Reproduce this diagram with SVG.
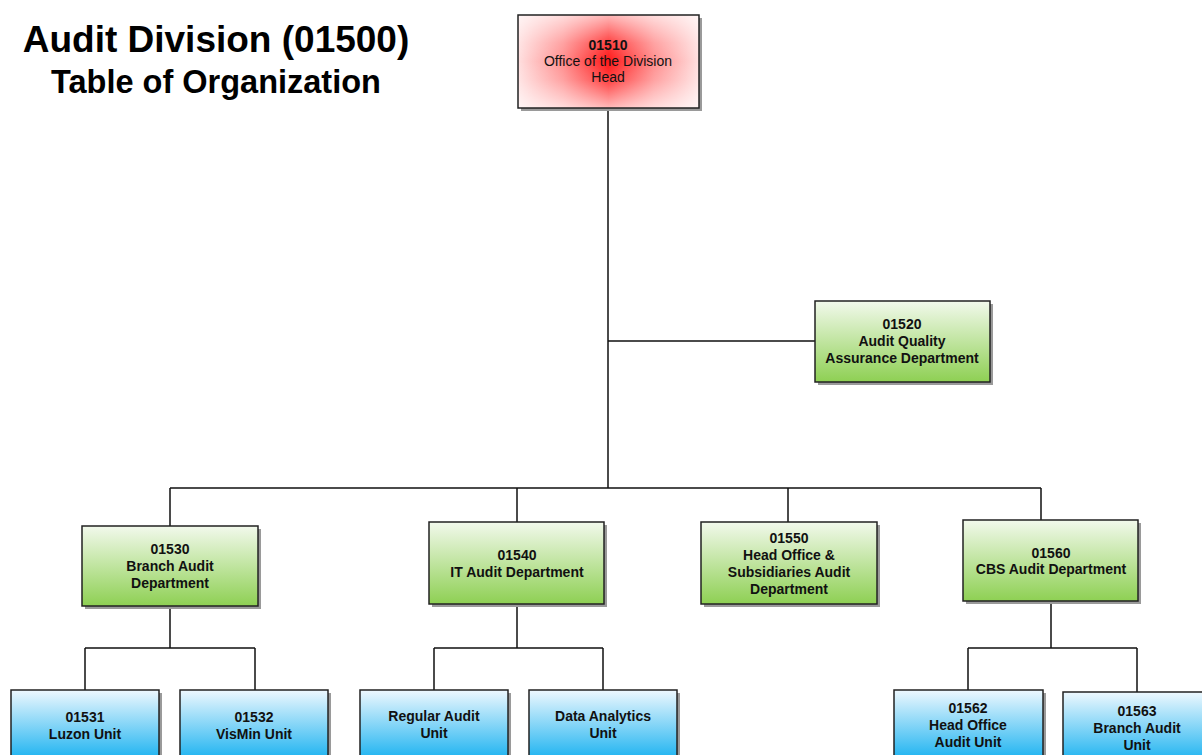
<svg xmlns="http://www.w3.org/2000/svg" width="1202" height="755" viewBox="0 0 1202 755">
<style>
.box{stroke:#222;stroke-width:1.5}
.sh{fill:#9a9a9a}
.t{font-family:"Liberation Sans",Arial,sans-serif;font-size:14px;font-weight:bold;fill:#111;text-anchor:middle}
.tn{font-family:"Liberation Sans",Arial,sans-serif;font-size:14px;fill:#111;text-anchor:middle}
.title{font-family:"Liberation Sans",Arial,sans-serif;font-weight:bold;fill:#000;text-anchor:middle}
.ln{stroke:#111;stroke-width:1.5;fill:none}
</style>
<defs>
<linearGradient id="redH" x1="0" y1="0" x2="1" y2="0">
<stop offset="0" stop-color="#ffe0e0"/>
<stop offset="0.25" stop-color="#ff8e8e"/>
<stop offset="0.5" stop-color="#ff1818"/>
<stop offset="0.75" stop-color="#ff8e8e"/>
<stop offset="1" stop-color="#ffe0e0"/>
</linearGradient>
<linearGradient id="redV" x1="0" y1="0" x2="0" y2="1">
<stop offset="0" stop-color="#ffffff" stop-opacity="0.7"/>
<stop offset="0.3" stop-color="#ffffff" stop-opacity="0.18"/>
<stop offset="0.5" stop-color="#ffffff" stop-opacity="0"/>
<stop offset="0.7" stop-color="#ffffff" stop-opacity="0.18"/>
<stop offset="1" stop-color="#ffffff" stop-opacity="0.7"/>
</linearGradient>
<linearGradient id="green" x1="0" y1="0" x2="0" y2="1">
<stop offset="0" stop-color="#f2f9ec"/>
<stop offset="1" stop-color="#8ed053"/>
</linearGradient>
<linearGradient id="blue" x1="0" y1="0" x2="0" y2="1">
<stop offset="0" stop-color="#eef8fe"/>
<stop offset="1" stop-color="#1ab2f0"/>
</linearGradient>
</defs>
<rect width="1202" height="755" fill="#fff"/>
<g id="title">
<text class="title" x="216" y="52" font-size="37">Audit Division (01500)</text>
<text class="title" x="216" y="93" font-size="32.5">Table of Organization</text>
</g>
<g id="connectors">
<path class="ln" d="M608 108V488M608 341H815M170 488H1041M170 488V526M517 488V522M788 488V522M1041 488V520"/>
<path class="ln" d="M170 606V648M85 648H255M85 648V690M255 648V690"/>
<path class="ln" d="M517 604V648M434 648H603M434 648V690M603 648V690"/>
<path class="ln" d="M1051 601V648M968 648H1137M968 648V690M1137 648V692"/>
</g>
<g id="n01510">
<rect class="sh" x="521" y="18" width="181" height="93"/>
<rect x="518" y="15" width="181" height="93" fill="url(#redH)"/>
<rect x="518" y="15" width="181" height="93" fill="url(#redV)"/>
<rect class="box" x="518" y="15" width="181" height="93" fill="none"/>
<text class="t" x="608" y="50">01510</text>
<text class="tn" x="608" y="66">Office of the Division</text>
<text class="tn" x="608" y="82">Head</text>
</g>
<g id="n01520">
<rect class="sh" x="818" y="304" width="175" height="81"/>
<rect class="box" x="815" y="301" width="175" height="81" fill="url(#green)"/>
<text class="t" x="902" y="329">01520</text>
<text class="t" x="902" y="346">Audit Quality</text>
<text class="t" x="902" y="363">Assurance Department</text>
</g>
<g id="n01530">
<rect class="sh" x="85" y="529" width="176" height="80"/>
<rect class="box" x="82" y="526" width="176" height="80" fill="url(#green)"/>
<text class="t" x="170" y="554">01530</text>
<text class="t" x="170" y="571">Branch Audit</text>
<text class="t" x="170" y="588">Department</text>
</g>
<g id="n01540">
<rect class="sh" x="432" y="525" width="175" height="82"/>
<rect class="box" x="429" y="522" width="175" height="82" fill="url(#green)"/>
<text class="t" x="517" y="560">01540</text>
<text class="t" x="517" y="577">IT Audit Department</text>
</g>
<g id="n01550">
<rect class="sh" x="704" y="525" width="176" height="82"/>
<rect class="box" x="701" y="522" width="176" height="82" fill="url(#green)"/>
<text class="t" x="789" y="543">01550</text>
<text class="t" x="789" y="560">Head Office &amp;</text>
<text class="t" x="789" y="577">Subsidiaries Audit</text>
<text class="t" x="789" y="594">Department</text>
</g>
<g id="n01560">
<rect class="sh" x="966" y="523" width="175" height="81"/>
<rect class="box" x="963" y="520" width="175" height="81" fill="url(#green)"/>
<text class="t" x="1051" y="558">01560</text>
<text class="t" x="1051" y="574">CBS Audit Department</text>
</g>
<g id="n01531">
<rect class="sh" x="14" y="693" width="148" height="70"/>
<rect class="box" x="11" y="690" width="148" height="70" fill="url(#blue)"/>
<text class="t" x="85" y="722">01531</text>
<text class="t" x="85" y="739">Luzon Unit</text>
</g>
<g id="n01532">
<rect class="sh" x="183" y="693" width="148" height="70"/>
<rect class="box" x="180" y="690" width="148" height="70" fill="url(#blue)"/>
<text class="t" x="254" y="722">01532</text>
<text class="t" x="254" y="739">VisMin Unit</text>
</g>
<g id="nRegular">
<rect class="sh" x="363" y="693" width="148" height="70"/>
<rect class="box" x="360" y="690" width="148" height="70" fill="url(#blue)"/>
<text class="t" x="434" y="721">Regular Audit</text>
<text class="t" x="434" y="738">Unit</text>
</g>
<g id="nData">
<rect class="sh" x="532" y="693" width="148" height="70"/>
<rect class="box" x="529" y="690" width="148" height="70" fill="url(#blue)"/>
<text class="t" x="603" y="721">Data Analytics</text>
<text class="t" x="603" y="738">Unit</text>
</g>
<g id="n01562">
<rect class="sh" x="897" y="693" width="149" height="70"/>
<rect class="box" x="894" y="690" width="149" height="70" fill="url(#blue)"/>
<text class="t" x="968" y="713">01562</text>
<text class="t" x="968" y="730">Head Office</text>
<text class="t" x="968" y="747">Audit Unit</text>
</g>
<g id="n01563">
<rect class="sh" x="1066" y="695" width="148" height="70"/>
<rect class="box" x="1063" y="692" width="148" height="70" fill="url(#blue)"/>
<text class="t" x="1137" y="716">01563</text>
<text class="t" x="1137" y="733">Branch Audit</text>
<text class="t" x="1137" y="750">Unit</text>
</g>
</svg>
